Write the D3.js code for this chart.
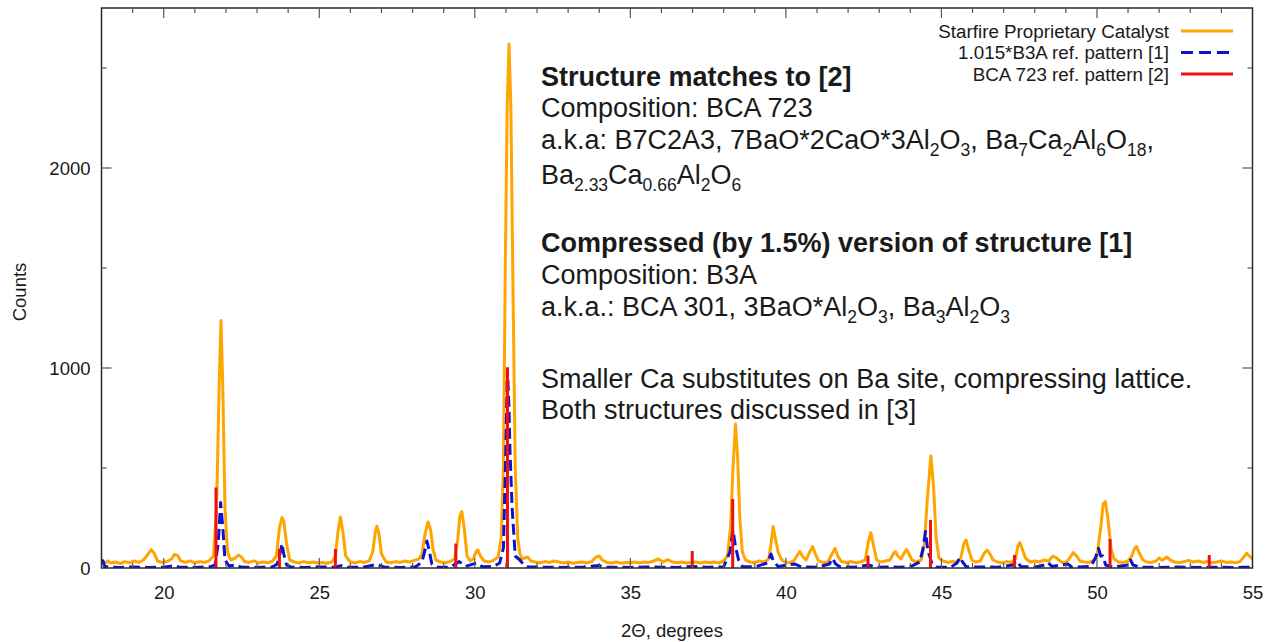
<!DOCTYPE html>
<html>
<head>
<meta charset="utf-8">
<script src="https://cdn.jsdelivr.net/npm/d3@7/dist/d3.min.js"></script>
<style>
  html, body { margin: 0; padding: 0; background: #fff; }
  svg { display: block; }
  text { font-family: "Liberation Sans", Arial, Helvetica, sans-serif; fill: #1a1a1a; }
</style>
</head>
<body>
<svg id="chart" width="1268" height="642"></svg>
<script>
// ---- Data -------------------------------------------------------------
// Measured diffraction pattern: [2theta (deg), counts]
const catalyst = [
  [18.0,30],[18.1,22],[18.2,35],[18.3,25],[18.45,30],[18.6,22],[18.75,32],[18.9,26],[19.05,35],[19.2,28],
  [19.35,40],[19.5,70],[19.6,92],[19.7,72],[19.8,35],[19.95,28],[20.1,32],[20.25,45],[20.35,68],[20.45,62],
  [20.55,35],[20.7,28],[20.85,36],[21.0,26],[21.15,32],[21.3,28],[21.45,35],[21.6,60],[21.7,300],[21.78,900],
  [21.84,1238],[21.9,900],[21.97,300],[22.05,80],[22.15,40],[22.3,50],[22.4,65],[22.5,55],[22.6,32],[22.75,28],
  [22.9,36],[23.05,25],[23.2,30],[23.35,26],[23.5,35],[23.62,60],[23.72,200],[23.8,252],[23.86,235],[23.95,120],
  [24.05,40],[24.2,30],[24.35,25],[24.5,32],[24.65,26],[24.8,30],[24.95,25],[25.1,28],[25.25,24],[25.4,30],
  [25.52,60],[25.6,180],[25.68,255],[25.76,180],[25.85,60],[26.0,30],[26.15,25],[26.3,32],[26.45,28],[26.6,35],
  [26.72,80],[26.8,180],[26.85,209],[26.92,170],[27.0,70],[27.15,30],[27.3,26],[27.45,32],[27.6,28],[27.75,35],
  [27.9,30],[28.05,38],[28.2,45],[28.3,70],[28.4,170],[28.5,230],[28.58,190],[28.66,90],[28.75,40],[28.9,30],
  [29.05,26],[29.2,32],[29.35,45],[29.45,140],[29.52,260],[29.58,282],[29.66,200],[29.75,60],[29.85,35],[29.95,45],
  [30.05,85],[30.1,90],[30.18,60],[30.3,35],[30.45,30],[30.6,38],[30.75,55],[30.85,150],[30.92,500],[30.98,1500],
  [31.04,2300],[31.1,2620],[31.16,2300],[31.22,1500],[31.3,500],[31.38,150],[31.45,70],[31.52,45],[31.6,50],[31.7,55],
  [31.8,35],[31.95,30],
  [32.1,26],[32.25,32],[32.4,28],[32.55,35],[32.7,30],[32.85,25],[33.0,30],[33.15,24],[33.3,28],[33.45,30],
  [33.6,25],[33.75,32],[33.9,55],[34.0,60],[34.1,40],[34.25,28],[34.4,25],[34.55,30],[34.7,24],[34.85,28],
  [35.0,26],[35.15,30],[35.3,25],[35.45,30],[35.6,28],[35.75,35],[35.9,45],[36.05,30],[36.2,42],[36.35,30],
  [36.5,26],[36.65,30],[36.8,25],[36.95,28],[37.1,30],[37.25,25],[37.4,30],[37.55,26],[37.7,30],[37.85,25],
  [38.0,35],[38.12,60],[38.22,200],[38.3,500],[38.38,720],[38.45,550],[38.52,250],[38.6,80],[38.7,40],[38.85,30],
  [39.0,28],[39.15,35],[39.3,30],[39.45,45],[39.52,120],[39.59,207],[39.66,150],[39.75,80],[39.85,45],[39.95,30],
  [40.1,26],[40.25,35],[40.35,60],[40.45,82],[40.55,55],[40.65,40],[40.75,75],[40.86,107],[40.95,70],[41.05,35],
  [41.2,28],[41.35,30],[41.48,70],[41.58,98],[41.67,60],[41.78,32],[41.95,28],[42.1,32],[42.25,26],[42.4,30],
  [42.55,40],[42.65,130],[42.73,177],[42.82,110],[42.92,40],[43.05,30],[43.2,35],[43.35,40],[43.45,70],[43.52,82],
  [43.6,60],[43.7,45],[43.8,75],[43.88,93],[43.96,70],[44.05,40],[44.2,30],[44.35,40],[44.45,120],[44.55,350],
  [44.66,560],[44.75,400],[44.83,150],[44.92,50],[45.05,35],[45.2,28],[45.35,32],[45.5,30],[45.62,50],[45.72,120],
  [45.79,140],[45.88,90],[45.98,40],[46.1,30],[46.25,35],[46.38,75],[46.47,90],[46.56,70],[46.66,40],[46.8,30],
  [46.95,25],[47.1,32],[47.25,28],[47.38,45],[47.46,110],[47.52,127],[47.6,95],[47.7,50],[47.85,30],[48.0,35],
  [48.15,30],[48.3,40],[48.45,35],[48.58,60],[48.7,50],[48.85,30],[49.0,28],[49.1,45],[49.24,77],[49.35,60],
  [49.45,35],[49.6,30],[49.75,28],[49.9,40],[50.0,60],[50.12,200],[50.2,320],[50.27,332],[50.35,250],[50.45,100],
  [50.55,45],[50.7,30],[50.85,28],[51.0,35],[51.12,60],[51.2,95],[51.27,107],[51.36,75],[51.48,40],[51.6,30],
  [51.75,28],[51.9,35],[52.0,50],[52.1,38],[52.24,55],[52.35,40],[52.5,30],[52.65,26],[52.8,32],[52.95,38],
  [53.1,30],[53.25,35],[53.4,28],[53.55,32],[53.7,26],[53.85,30],[54.0,35],[54.15,28],[54.3,30],[54.45,26],
  [54.6,32],[54.72,55],[54.81,73],[54.9,60],[55.0,45]
];

// Simulated pattern of the compressed B3A structure: [2theta (deg), counts]
const b3aRef = [
  [18.0,40],[18.05,35],[18.1,8],[18.3,4],[18.6,3],[19.0,5],[19.5,3],[20.0,4],[20.35,12],[20.5,4],
  [21.0,3],[21.5,6],[21.65,15],[21.75,120],[21.83,327],[21.9,200],[21.97,40],[22.1,10],[22.3,15],[22.5,4],
  [23.0,3],[23.5,6],[23.65,20],[23.75,80],[23.8,122],[23.86,70],[23.95,15],[24.1,4],[24.5,3],[25.0,5],
  [25.5,4],[25.7,12],[25.9,4],[26.4,3],[26.85,18],[27.1,4],[27.6,3],[28.1,6],[28.3,30],[28.4,90],
  [28.46,135],[28.53,90],[28.62,20],[28.8,5],[29.2,4],[29.5,32],[29.7,8],[30.06,25],[30.25,6],[30.6,8],
  [30.8,25],[30.92,100],[31.0,600],[31.05,990],[31.1,800],[31.13,590],[31.2,300],[31.3,60],[31.45,40],[31.55,20],
  [31.7,6],[32.2,4],[32.8,3],[33.5,5],[34.0,12],[34.2,4],[35.0,3],[35.5,5],[36.0,4],[36.5,3],
  [37.0,8],[37.5,4],[38.0,6],[38.2,80],[38.3,190],[38.38,107],[38.48,40],[38.6,8],[39.0,5],[39.4,25],
  [39.52,70],[39.6,35],[39.75,8],[40.29,20],[40.5,5],[41.0,4],[41.4,20],[41.5,48],[41.6,20],[41.75,5],
  [42.2,4],[42.65,15],[42.9,4],[43.3,5],[43.6,4],[44.0,6],[44.3,30],[44.4,90],[44.49,182],[44.56,90],
  [44.62,60],[44.7,20],[44.85,5],[45.3,4],[45.5,25],[45.6,53],[45.68,30],[45.8,6],[46.3,5],[46.8,4],
  [47.3,15],[47.42,35],[47.55,8],[48.0,4],[48.3,15],[48.43,27],[48.55,8],[49.06,20],[49.2,4],[49.8,8],
  [49.95,50],[50.05,98],[50.12,60],[50.19,60],[50.28,15],[50.5,5],[51.0,15],[51.08,40],[51.16,15],[51.4,4],
  [52.0,3],[52.6,5],[53.2,3],[53.8,4],[54.4,3],[55.0,4]
];

// BCA 723 reference reflections (stick pattern)
const bcaTheta  = [21.68, 23.72, 25.52, 29.39, 31.05, 36.99, 38.29, 42.64, 44.65, 47.35, 50.42, 53.61];
const bcaCounts = [402,   95,    95,    122,   1004,  85,    345,   62,    240,   65,    145,   65];

const xTicksMajor = [20, 25, 30, 35, 40, 45, 50, 55];
const yTicksMajor = [0, 1000, 2000];

const seriesNames = ["Starfire Proprietary Catalyst", "1.015*B3A ref. pattern [1]", "BCA 723 ref. pattern [2]"];
const seriesColors = ["#ffa500", "#0a14d2", "#ee1111"];

// ---- Layout -----------------------------------------------------------
const svg = d3.select("#chart");
const plotLeft = 101.5, plotRight = 1252.5, plotTop = 8, plotBottom = 568;

const x = d3.scaleLinear().domain([18, 55]).range([plotLeft, plotRight]);
const y = d3.scaleLinear().domain([0, 2800]).range([plotBottom, plotTop]);

svg.append("defs").append("clipPath").attr("id", "plotArea")
  .append("rect").attr("x", plotLeft).attr("y", plotTop)
  .attr("width", plotRight - plotLeft).attr("height", plotBottom - plotTop);

const plot = svg.append("g").attr("clip-path", "url(#plotArea)");

const line = d3.line().x(d => x(d[0])).y(d => y(d[1]));

// measured curve
plot.append("path").datum(catalyst)
  .attr("d", line).attr("fill", "none")
  .attr("stroke", seriesColors[0]).attr("stroke-width", 3)
  .attr("stroke-linejoin", "round");

// compressed B3A reference, dashed
plot.append("path").datum(b3aRef)
  .attr("d", line).attr("fill", "none")
  .attr("stroke", seriesColors[1]).attr("stroke-width", 3)
  .attr("stroke-dasharray", "11,5")
  .attr("stroke-linejoin", "round");

// BCA 723 sticks
plot.selectAll("line.stick").data(bcaTheta.map((t, i) => [t, bcaCounts[i]]))
  .join("line").attr("class", "stick")
  .attr("x1", d => x(d[0])).attr("x2", d => x(d[0]))
  .attr("y1", y(0)).attr("y2", d => y(d[1]))
  .attr("stroke", seriesColors[2]).attr("stroke-width", 3);

// ---- Axes (gnuplot style: inward ticks, mirrored) ---------------------
svg.append("rect")
  .attr("x", plotLeft).attr("y", plotTop)
  .attr("width", plotRight - plotLeft).attr("height", plotBottom - plotTop)
  .attr("fill", "none").attr("stroke", "#2a2a2a").attr("stroke-width", 1.5);

const xMinor = d3.range(19, 55, 1).filter(v => !xTicksMajor.includes(v));
const yMinor = [500, 1500, 2500];

const xAxisB = d3.axisBottom(x).tickValues(xTicksMajor).tickSize(0).tickPadding(0).tickFormat(d3.format("d"));
const gxb = svg.append("g").attr("transform", `translate(0,${plotBottom})`).call(xAxisB);
gxb.select(".domain").remove();
gxb.selectAll("text").attr("dy", null).attr("y", 31).style("font-size", "18.5px")
  .style("font-family", '"Liberation Sans", Arial, sans-serif').attr("fill", "#1a1a1a");

const yAxisL = d3.axisLeft(y).tickValues(yTicksMajor).tickSize(0).tickPadding(11).tickFormat(d3.format("d"));
const gyl = svg.append("g").attr("transform", `translate(${plotLeft},0)`).call(yAxisL);
gyl.select(".domain").remove();
gyl.selectAll("text").attr("dy", "0.35em").style("font-size", "18.5px")
  .style("font-family", '"Liberation Sans", Arial, sans-serif').attr("fill", "#1a1a1a");

const ticks = svg.append("g").attr("stroke", "#555").attr("stroke-width", 1.2);
function xTick(v, len) {
  ticks.append("line").attr("x1", x(v)).attr("x2", x(v)).attr("y1", plotBottom).attr("y2", plotBottom - len);
  ticks.append("line").attr("x1", x(v)).attr("x2", x(v)).attr("y1", plotTop).attr("y2", plotTop + len);
}
function yTick(v, len) {
  ticks.append("line").attr("y1", y(v)).attr("y2", y(v)).attr("x1", plotLeft).attr("x2", plotLeft + len);
  ticks.append("line").attr("y1", y(v)).attr("y2", y(v)).attr("x1", plotRight).attr("x2", plotRight - len);
}
xTicksMajor.filter(v => v > 18 && v < 55).forEach(v => xTick(v, 10));
xMinor.forEach(v => xTick(v, 5));
yTicksMajor.filter(v => v > 0).forEach(v => yTick(v, 10));
yMinor.forEach(v => yTick(v, 5));

// axis titles
svg.append("text").attr("x", 672).attr("y", 637).attr("text-anchor", "middle")
  .style("font-size", "18.5px").text("2Θ, degrees");
svg.append("text").attr("transform", "translate(26,292) rotate(-90)").attr("text-anchor", "middle")
  .style("font-size", "18.5px").text("Counts");

// ---- Legend -------------------------------------------------------------
const legend = svg.append("g");
const legendY = [31, 52.5, 74];
seriesNames.forEach((name, i) => {
  legend.append("text").attr("x", 1169).attr("y", legendY[i]).attr("dy", "0.35em")
    .attr("text-anchor", "end").style("font-size", "18.8px").text(name);
  const l = legend.append("line")
    .attr("x1", 1181).attr("x2", 1233).attr("y1", legendY[i]).attr("y2", legendY[i])
    .attr("stroke", seriesColors[i]).attr("stroke-width", 3);
  if (i === 1) l.attr("stroke-dasharray", "12,6");
});

// ---- Annotation ---------------------------------------------------------
// Each line is a list of [text, style] runs; "sub" runs are subscripts.
const noteLines = [
  { y: 86,  bold: true,  runs: [["Structure matches to [2]"]] },
  { y: 117, runs: [["Composition: BCA 723"]] },
  { y: 149, runs: [["a.k.a: B7C2A3, 7BaO*2CaO*3Al"],["2","sub"],["O"],["3","sub"],[", Ba"],["7","sub"],["Ca"],["2","sub"],["Al"],["6","sub"],["O"],["18","sub"],[","]] },
  { y: 184, runs: [["Ba"],["2.33","sub"],["Ca"],["0.66","sub"],["Al"],["2","sub"],["O"],["6","sub"]] },
  { y: 252, bold: true, runs: [["Compressed (by 1.5%) version of structure [1]"]] },
  { y: 284, runs: [["Composition: B3A"]] },
  { y: 316, runs: [["a.k.a.: BCA 301, 3BaO*Al"],["2","sub"],["O"],["3","sub"],[", Ba"],["3","sub"],["Al"],["2","sub"],["O"],["3","sub"]] },
  { y: 388, runs: [["Smaller Ca substitutes on Ba site, compressing lattice."]] },
  { y: 419, runs: [["Both structures discussed in [3]"]] }
];

const note = svg.append("g");
noteLines.forEach(ln => {
  const t = note.append("text").attr("x", 541).attr("y", ln.y)
    .style("font-size", "27px").style("font-weight", ln.bold ? "bold" : "normal");
  let shifted = false;
  ln.runs.forEach(([s, kind]) => {
    const sp = t.append("tspan").text(s);
    if (kind === "sub" && !shifted) { sp.attr("dy", 7).style("font-size", "17.5px"); shifted = true; }
    else if (kind === "sub") { sp.style("font-size", "17.5px"); }
    else if (shifted) { sp.attr("dy", -7); shifted = false; }
  });
});
</script>
</body>
</html>
